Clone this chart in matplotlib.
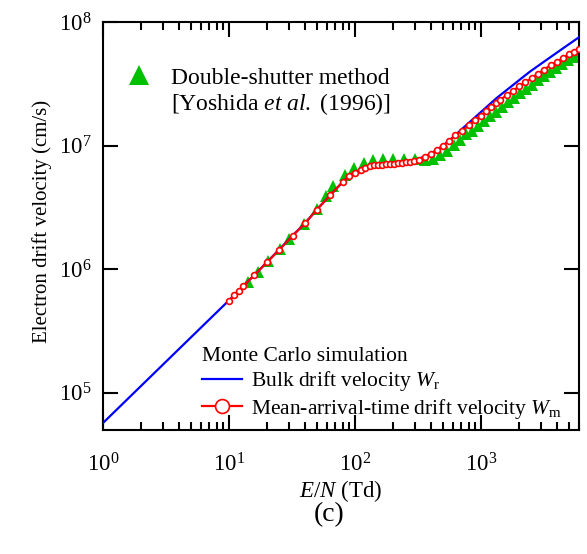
import matplotlib
matplotlib.use("Agg")
import matplotlib.pyplot as plt
from matplotlib.lines import Line2D

plt.rcParams['font.family'] = ['Liberation Serif', 'DejaVu Serif']
plt.rcParams['mathtext.fontset'] = 'custom'
plt.rcParams['mathtext.rm'] = 'Liberation Serif'
plt.rcParams['mathtext.it'] = 'Liberation Serif:italic'
plt.rcParams['mathtext.bf'] = 'Liberation Serif:bold'

# Mean-arrival-time drift velocity W_m (Monte Carlo)
en_m = [10.0, 11.0, 12.0, 13.0, 15.9, 20.1, 25.1, 32.1, 40.1, 49.7, 63.4, 79.8, 89.9, 100,
        111, 121, 131, 142, 153, 165, 176, 190, 204, 218, 235, 252, 274, 296, 321, 360,
        401, 450, 502, 560, 622, 706, 807, 902, 1000, 1096, 1200, 1309, 1416, 1600, 1803,
        2004, 2249, 2523, 2818, 3177, 3597, 4036, 4498, 5023, 5495, 6026]
w_m = [5.55e5, 6.17e5, 6.68e5, 7.33e5, 8.99e5, 1.14e6, 1.44e6, 1.87e6, 2.35e6, 3.03e6,
       3.95e6, 5.08e6, 5.65e6, 6.05e6, 6.38e6, 6.62e6, 6.81e6, 6.92e6, 6.98e6, 7.03e6,
       7.06e6, 7.11e6, 7.16e6, 7.19e6, 7.24e6, 7.33e6, 7.43e6, 7.57e6, 7.71e6, 8.15e6,
       8.57e6, 9.16e6, 1.0e7, 1.09e7, 1.21e7, 1.32e7, 1.46e7, 1.60e7, 1.75e7, 1.90e7,
       2.05e7, 2.21e7, 2.34e7, 2.55e7, 2.78e7, 3.01e7, 3.24e7, 3.52e7, 3.81e7, 4.12e7,
       4.50e7, 4.79e7, 5.13e7, 5.50e7, 5.75e7, 6.05e7]

# Bulk drift velocity W_r (Monte Carlo)
en_r = [1, 10, 13, 16, 20, 25, 32, 40, 50, 63, 80, 90, 100, 120, 150, 200, 250, 300, 400,
        500, 600, 700, 982, 1334, 1803, 2449, 3319, 4498, 6000]
w_r = [5.7e4, 5.6e5, 7.33e5, 9.0e5, 1.14e6, 1.44e6, 1.87e6, 2.35e6, 3.05e6, 3.93e6, 5.08e6,
       5.65e6, 6.05e6, 6.6e6, 6.97e6, 7.15e6, 7.33e6, 7.6e6, 8.6e6, 1.0e7, 1.17e7, 1.35e7,
       1.84e7, 2.43e7, 3.10e7, 3.97e7, 4.94e7, 6.14e7, 7.53e7]

# Double-shutter method, Yoshida et al. (1996)
en_exp = [14.2, 17.1, 20.5, 25.4, 30.2, 39.7, 49.9, 58.9, 67.5, 83.4, 98.2, 117, 140, 166,
          199, 245, 299, 360, 416, 473, 537, 611, 681, 760, 849, 946, 1057, 1178, 1315,
          1469, 1637, 1828, 2042, 2275, 2541, 2831, 3162, 3532, 3936, 4395, 4898, 5470, 5998]
w_exp = [7.85e5, 9.46e5, 1.16e6, 1.45e6, 1.76e6, 2.33e6, 3.05e6, 3.92e6, 4.67e6, 5.73e6,
         6.53e6, 7.29e6, 7.71e6, 7.78e6, 7.82e6, 7.82e6, 7.78e6, 7.64e6, 7.85e6, 8.45e6,
         9.12e6, 1.02e7, 1.12e7, 1.23e7, 1.32e7, 1.45e7, 1.59e7, 1.75e7, 1.88e7, 2.07e7,
         2.26e7, 2.44e7, 2.67e7, 2.88e7, 3.10e7, 3.40e7, 3.67e7, 3.95e7, 4.26e7, 4.58e7,
         4.94e7, 5.22e7, 5.73e7]

GREEN = '#00c000'

fig = plt.figure(figsize=(5.87, 5.54), dpi=100)
ax = fig.add_axes([103/587, 1-430/554, (579-103)/587, (430-22)/554])

ax.plot(en_exp, w_exp, linestyle='none', marker='^', color=GREEN, markersize=9,
        markeredgewidth=0, zorder=2)
ax.plot(en_r, w_r, color='#0000ff', linewidth=1.6, zorder=3)
ax.plot(en_m, w_m, color='#ff0000', linewidth=1.6, marker='o', markersize=4.2,
        markerfacecolor='white', markeredgecolor='#ff0000', markeredgewidth=1.2, zorder=4)

ax.set_xscale('log')
ax.set_yscale('log')
ax.set_xlim(1, 6000)
ax.set_ylim(5e4, 1e8)

for s in ax.spines.values():
    s.set_linewidth(1.5)
ax.tick_params(which='both', direction='in', top=True, right=True, width=1.5,
               labelsize=16.5)
ax.tick_params(which='major', length=11)
ax.tick_params(which='minor', length=6)
ax.tick_params(axis='x', which='major', pad=17)
ax.tick_params(axis='y', which='major', pad=8)
ax.yaxis.set_minor_locator(matplotlib.ticker.NullLocator())

ax.set_xlabel('$E/N$ (Td)', fontsize=16.5)
ax.xaxis.set_label_coords(0.5, -0.117)
ax.set_ylabel('Electron drift velocity (cm/s)', fontsize=15)
ax.yaxis.set_label_coords(-0.108, 0.51)

# Experimental legend (top left)
h_exp = Line2D([], [], linestyle='none', marker='^', color=GREEN, markersize=14,
               markeredgewidth=0)
h_blank = Line2D([], [], linestyle='none', marker=None)
leg1 = ax.legend([h_exp, h_blank],
                 ['Double-shutter method', '[Yoshida $\\mathit{et\\ al.}$ (1996)]'],
                 loc='upper left', bbox_to_anchor=(0.0137, 0.93), frameon=False,
                 fontsize=17, handlelength=1.1, handletextpad=0.8, borderaxespad=0.3,
                 labelspacing=0.1)
ax.add_artist(leg1)

# Simulation legend (bottom)
h_r = Line2D([], [], color='#0000ff', linewidth=1.6)
h_m = Line2D([], [], color='#ff0000', linewidth=1.6, marker='o', markersize=10,
             markerfacecolor='white', markeredgecolor='#ff0000', markeredgewidth=1.2)
leg2 = ax.legend([h_r, h_m], ['Bulk drift velocity $W_{\\mathrm{r}}$',
                              'Mean-arrival-time drift velocity $W_{\\mathrm{m}}$'],
                 loc='lower left', bbox_to_anchor=(0.189, 0.002), frameon=False,
                 fontsize=15.5, title='Monte Carlo simulation', title_fontsize=15.5,
                 alignment='left', handlelength=1.86, handletextpad=0.42,
                 labelspacing=0.15, borderaxespad=0.0)

fig.text(329/587, 1-515/554, '(c)', fontsize=20, ha='center', va='center')

fig.savefig('out.png', dpi=100)
